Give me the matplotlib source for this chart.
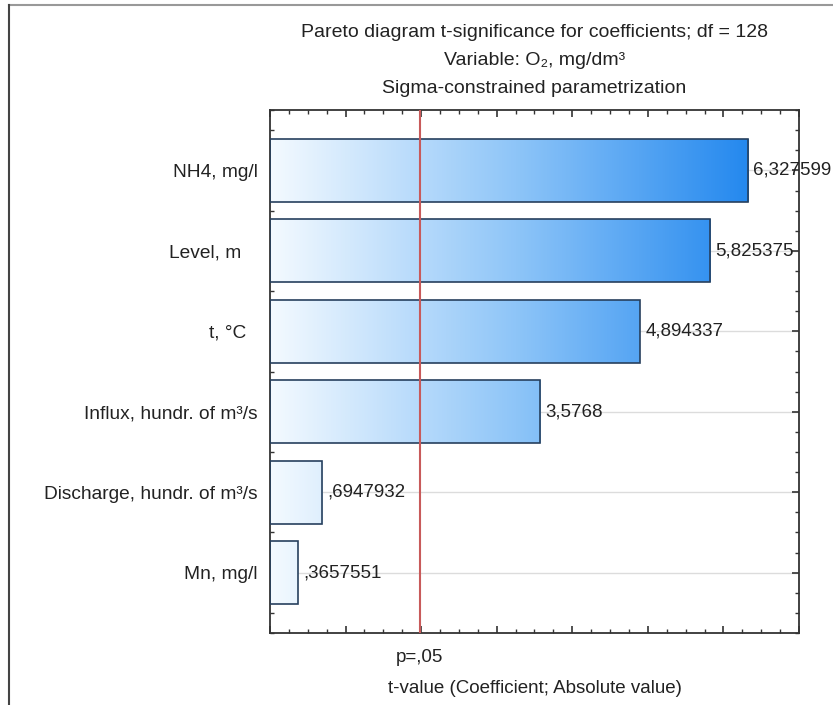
import matplotlib
matplotlib.use("Agg")
import matplotlib.pyplot as plt
import numpy as np
from matplotlib.colors import LinearSegmentedColormap
from matplotlib.lines import Line2D
from matplotlib.ticker import MultipleLocator

plt.rcParams['font.family'] = ['Liberation Sans', 'DejaVu Sans']

# Pareto chart of t-values, largest effect on top
factors = ["NH4, mg/l", "Level, m   ", "t, \u00b0C  ", "Influx, hundr. of m\u00b3/s",
           "Discharge, hundr. of m\u00b3/s", "Mn, mg/l"]
tvals = [6.327599, 5.825375, 4.894337, 3.5768, 0.6947932, 0.3657551]
t_crit = 1.9787   # p=.05, df=128

def fmt(v):
    s = str(v).replace('.', ',')
    if s.startswith('0,'):
        s = s[1:]
    return s

fs = 13.5
tc = "#222222"

fig = plt.figure(figsize=(8.33, 7.05), dpi=100)
ax = fig.add_axes([0.3241, 0.1021, 0.6351, 0.7418])

xmax = 7.0
ypos = np.arange(len(factors))
h = 0.78
cmap = LinearSegmentedColormap.from_list("bl", ["#f4faff", "#8ec5f8", "#1e85ee"])
grad = np.linspace(0, 1, 256).reshape(1, -1)

for y in ypos:
    ax.axhline(y, color="#dcdcdc", lw=1, zorder=0)

bars = ax.barh(ypos, tvals, height=h, facecolor="none", edgecolor="#27405e", lw=1.2, zorder=3)
for b, y in zip(bars, ypos):
    im = ax.imshow(grad, cmap=cmap, aspect='auto', extent=[0, 6.5, y - h/2, y + h/2],
                   zorder=2, interpolation='bilinear')
    im.set_clip_path(b)

for v, y in zip(tvals, ypos):
    ax.text(v + 0.07, y, fmt(v), ha='left', va='center', fontsize=fs, color=tc, zorder=4)

ax.axvline(t_crit, color="#c85a5a", lw=1.5, zorder=4)

ax.set_xlim(0, xmax)
ax.set_ylim(len(factors) - 0.25, -0.75)
ax.set_yticks(ypos)
ax.set_yticklabels(factors, fontsize=13.8, color=tc)
ax.yaxis.set_minor_locator(MultipleLocator(0.25))
ax.xaxis.set_major_locator(MultipleLocator(1))
ax.xaxis.set_minor_locator(MultipleLocator(0.25))
ax.set_xticklabels([])
ax.tick_params(which='both', direction='in', top=True, right=True, color="#333333")
ax.tick_params(which='major', length=5, width=1.2)
ax.tick_params(which='minor', length=3, width=1)
ax.tick_params(axis='y', which='major', pad=9)
for sp in ax.spines.values():
    sp.set_color("#333333")
    sp.set_linewidth(1.3)

ax.text(t_crit, -0.03, "p=,05", transform=ax.get_xaxis_transform(), ha='center', va='top',
        fontsize=fs, color=tc)
ax.set_xlabel("t-value (Coefficient; Absolute value)", fontsize=fs, color=tc, labelpad=30)

ax.set_title("Pareto diagram t-significance for coefficients; df = 128\n"
             "Variable: O\u2082, mg/dm\u00b3\nSigma-constrained parametrization",
             fontsize=14, color=tc, linespacing=1.85, pad=12)

# window frame
fig.add_artist(Line2D([9/833, 1], [1 - 5/705, 1 - 5/705], transform=fig.transFigure, color="#999999", lw=1.5))
fig.add_artist(Line2D([9/833, 9/833], [0, 1 - 5/705], transform=fig.transFigure, color="#444444", lw=1.5))

fig.savefig("out.png", dpi=100)
